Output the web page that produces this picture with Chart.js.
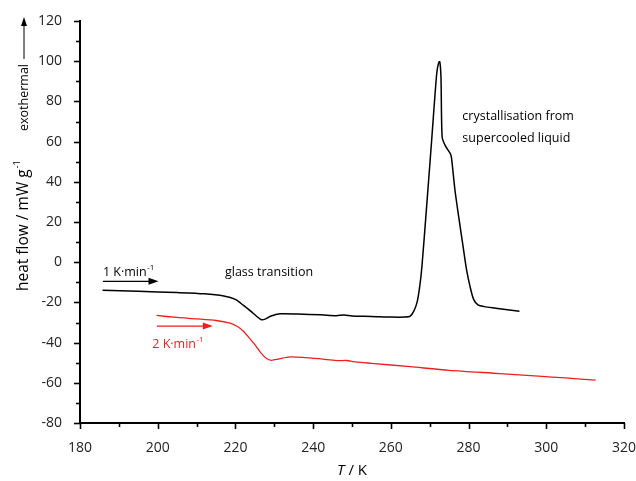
<!DOCTYPE html>
<html>
<head>
<meta charset="utf-8">
<script src="https://cdn.jsdelivr.net/npm/chart.js@4"></script>
<style>
  html, body { margin: 0; padding: 0; background: #fff; }
  #wrap { width: 636px; height: 481px; }
</style>
</head>
<body>
<div id="wrap"><canvas id="c" width="636" height="481"></canvas></div>
<script>
// DSC-Kurven: Temperatur (K) und Wärmestrom (mW/g)
const black_T = [185.8, 195, 205, 212, 217, 220, 222, 224, 225.5, 226.7, 227.8, 229, 231.5, 236, 242, 246, 248, 250, 255, 260, 263.5, 265, 266, 266.8, 267.5, 268, 269.2, 270.5, 271.8, 272.3, 272.6, 272.9, 273.2, 274, 275.3, 275.6, 276.5, 277.5, 278.6, 279.5, 280.4, 281.3, 282.4, 284, 287, 290, 293.1];
const black_V = [-13.9, -14.5, -15.1, -15.7, -16.8, -18.5, -21.4, -24.5, -27, -28.6, -28.2, -26.9, -25.7, -25.8, -26.2, -26.6, -26.3, -26.8, -27, -27.3, -27.3, -26.8, -24, -19.5, -11, -2, 27.5, 60.7, 93.9, 99.3, 99.7, 92, 62.3, 58, 54, 52, 35.8, 22, 7.6, -4, -12.3, -18.5, -21.2, -22.1, -22.9, -23.7, -24.4];

const red_T = [199.7, 205, 210, 215, 218.6, 220.5, 222, 223.5, 225, 226.5, 228, 229.3, 231, 234, 238, 243, 246.5, 248.5, 251, 255, 265, 275, 288, 298, 305, 312.7];
const red_V = [-26.5, -27.5, -28.2, -29, -30.3, -32, -34.2, -37.5, -41, -45, -47.9, -48.8, -48.2, -47.1, -47.5, -48.3, -49, -48.9, -49.6, -50.3, -52, -53.8, -55.4, -56.7, -57.6, -58.7];

const x_min = 180, x_max = 320, x_step = 20;
const y_min = -80, y_max = 120, y_step = 20;

const FONT = '"Open Sans", "DejaVu Sans", sans-serif';
const RED = '#f01e1e';

function toPoints(xs, ys) {
  return xs.map((x, i) => ({ x: x, y: ys[i] }));
}

// Beschriftungen, Pfeile und kleine Striche
const extras = {
  id: 'extras',
  afterDraw(chart) {
    const ctx = chart.ctx;
    const xs = chart.scales.x, ys = chart.scales.y;
    const area = chart.chartArea;
    const px = (v) => xs.getPixelForValue(v);
    const py = (v) => ys.getPixelForValue(v);
    ctx.save();

    // Striche an den Achsen (groß und klein)
    ctx.strokeStyle = '#000';
    ctx.lineWidth = 1.6;
    for (let v = x_min; v <= x_max; v += 10) {
      const len = v % 20 === 0 ? 6 : 4;
      const p = Math.round(px(v)) + 0.5;
      ctx.beginPath();
      ctx.moveTo(p, area.bottom);
      ctx.lineTo(p, area.bottom + len);
      ctx.stroke();
    }
    for (let v = y_min; v <= y_max; v += 10) {
      const len = v % 20 === 0 ? 6 : 4;
      const p = Math.round(py(v)) + 0.5;
      ctx.beginPath();
      ctx.moveTo(area.left, p);
      ctx.lineTo(area.left - len, p);
      ctx.stroke();
    }

    // Pfeile
    function arrow(x0, x1, y, color) {
      const a = px(x0), b = px(x1), c = py(y);
      ctx.strokeStyle = color;
      ctx.fillStyle = color;
      ctx.lineWidth = 1.3;
      ctx.beginPath();
      ctx.moveTo(a, c);
      ctx.lineTo(b - 6, c);
      ctx.stroke();
      ctx.beginPath();
      ctx.moveTo(b, c);
      ctx.lineTo(b - 10, c - 3.5);
      ctx.lineTo(b - 10, c + 3.5);
      ctx.closePath();
      ctx.fill();
    }
    arrow(185.9, 200.2, -9.5, '#000');
    arrow(199.8, 214.2, -31.8, RED);

    // Text mit Hochzahl
    function supText(base, sup, x, y, color) {
      ctx.fillStyle = color;
      ctx.font = '12.5px ' + FONT;
      ctx.textAlign = 'left';
      ctx.textBaseline = 'alphabetic';
      ctx.fillText(base, x, y);
      const w = ctx.measureText(base).width;
      ctx.font = '8px ' + FONT;
      ctx.fillText(sup, x + w + 0.5, y - 6);
    }
    supText('1 K\u00b7min', '-1', px(185.9), py(-7), '#000');
    supText('2 K\u00b7min', '-1', px(198.6), py(-42.8), RED);

    ctx.fillStyle = '#000';
    ctx.font = '12.5px ' + FONT;
    ctx.fillText('glass transition', px(217.3), py(-7));
    ctx.fillText('crystallisation from', px(278.4), py(70.5));
    ctx.fillText('supercooled liquid', px(278.4), py(60));

    // y-Achsentitel (gedreht)
    ctx.save();
    ctx.translate(28, 0);
    ctx.rotate(-Math.PI / 2);
    ctx.fillStyle = '#000';
    ctx.font = '15.5px ' + FONT;
    ctx.textAlign = 'left';
    const t1 = 'heat flow / mW g';
    ctx.fillText(t1, -291, 0);
    const w1 = ctx.measureText(t1).width;
    ctx.font = '9px ' + FONT;
    ctx.fillText('-1', -291 + w1 + 1, -8);
    ctx.font = '12.5px ' + FONT;
    const t2 = 'exothermal';
    ctx.fillText(t2, -131, 0);
    const w2 = ctx.measureText(t2).width;
    const a0 = -131 + w2 + 5, a1 = -17;
    ctx.strokeStyle = '#000';
    ctx.lineWidth = 1;
    ctx.beginPath();
    ctx.moveTo(a0, -4);
    ctx.lineTo(a1 - 4, -4);
    ctx.stroke();
    ctx.beginPath();
    ctx.moveTo(a1, -4);
    ctx.lineTo(a1 - 9, -7);
    ctx.lineTo(a1 - 9, -1);
    ctx.closePath();
    ctx.fill();
    ctx.restore();

    // x-Achsentitel
    ctx.font = 'italic 15px ' + FONT;
    const tw = ctx.measureText('T').width;
    ctx.font = '15px ' + FONT;
    const rw = ctx.measureText(' / K').width;
    const sx = 352 - (tw + rw) / 2;
    ctx.font = 'italic 15px ' + FONT;
    ctx.fillText('T', sx, 475);
    ctx.font = '15px ' + FONT;
    ctx.fillText(' / K', sx + tw, 475);

    ctx.restore();
  }
};

new Chart(document.getElementById('c'), {
  type: 'scatter',
  data: {
    datasets: [
      {
        data: toPoints(black_T, black_V),
        showLine: true,
        borderColor: '#000',
        borderWidth: 1.5,
        pointRadius: 0,
        tension: 0.25,
      },
      {
        data: toPoints(red_T, red_V),
        showLine: true,
        borderColor: RED,
        borderWidth: 1.3,
        pointRadius: 0,
        tension: 0.25,
      },
    ],
  },
  options: {
    responsive: false,
    animation: false,
    layout: { padding: 0 },
    plugins: { legend: { display: false }, tooltip: { enabled: false } },
    scales: {
      x: {
        type: 'linear',
        min: x_min,
        max: x_max,
        grid: { display: false },
        border: { display: true, color: '#000', width: 2 },
        ticks: { stepSize: x_step, padding: 9, color: '#222', font: { family: FONT, size: 14 }, maxRotation: 0 },
        afterFit: (s) => { s.height = 58; s.paddingRight = 12; s.paddingLeft = 0; },
      },
      y: {
        type: 'linear',
        min: y_min,
        max: y_max,
        grid: { display: false },
        border: { display: true, color: '#000', width: 2 },
        ticks: { stepSize: y_step, padding: 10, color: '#222', font: { family: FONT, size: 14 } },
        afterFit: (s) => { s.width = 80; s.paddingTop = 21; s.paddingBottom = 0; },
      },
    },
  },
  plugins: [extras],
});
</script>
</body>
</html>
